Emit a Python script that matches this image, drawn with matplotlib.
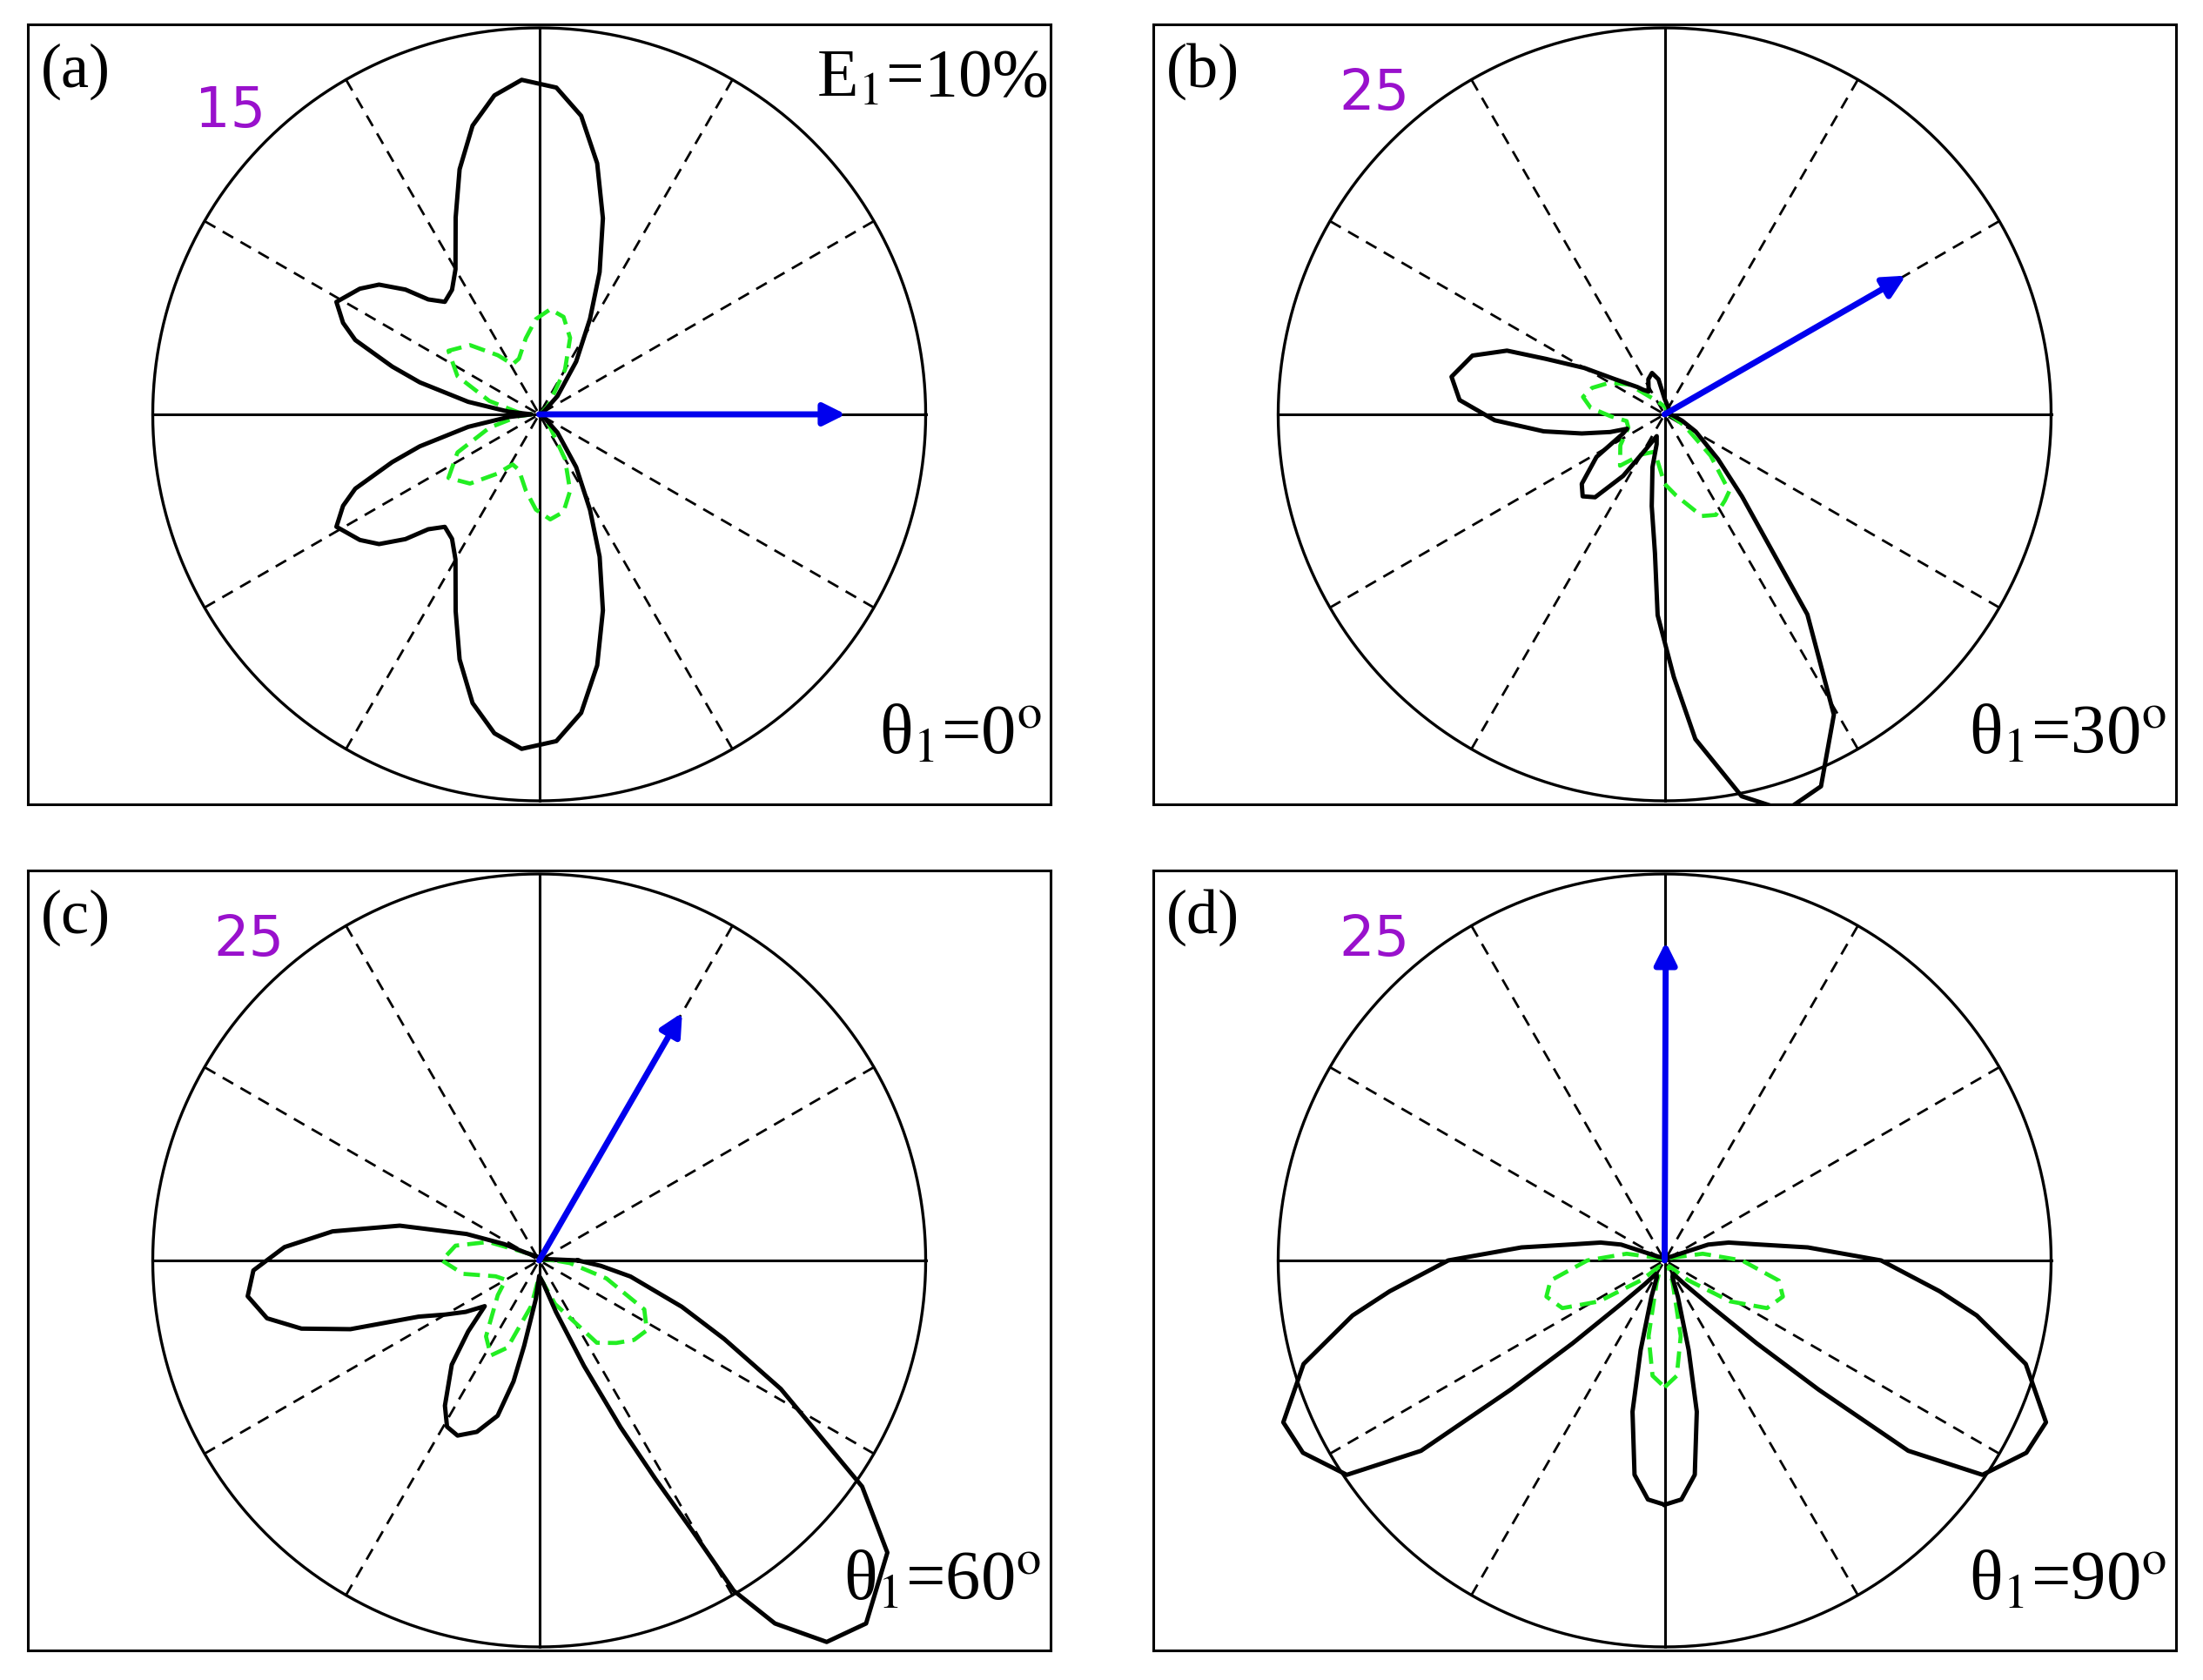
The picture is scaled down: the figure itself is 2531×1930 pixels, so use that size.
import numpy as np
import matplotlib
matplotlib.use("Agg")
import matplotlib.pyplot as plt

plt.rcParams['font.family'] = ['Liberation Serif', 'DejaVu Serif']
plt.rcParams['mathtext.fontset'] = 'stix'

# ---- data (angles in degrees, radii in plot units) ----
# (a) upper half, mirrored for lower half
a_black_ang = [0, 30, 45, 55, 62, 67, 72, 77, 82, 87, 93, 98, 103, 108, 113, 120, 125, 130, 134, 137, 141, 145, 151, 155, 158, 162, 165, 170, 175, 180]
a_black_r = [0, 0.2, 1, 2.5, 4.2, 6, 8, 10, 11.7, 12.7, 13, 12.5, 11.5, 10, 8.3, 6.5, 5.9, 5.7, 6.2, 7.1, 8, 8.5, 9, 8.4, 7.7, 6, 4.8, 2.8, 1.2, 0.3]
a_green_ang = [0, 30, 45, 60, 68, 76, 84, 92, 100, 110, 118, 125, 135, 145, 155, 165, 175, 180]
a_green_r = [0, 0.1, 0.5, 2, 3.2, 3.9, 4.1, 3.7, 3, 2.3, 2.2, 2.8, 3.8, 4.3, 3.5, 2, 0.8, 0.3]

b_black_ang = [0, 30, 60, 90, 100, 107, 115, 125, 131, 135, 145, 150, 155, 158, 163, 170, 176, 182, 188, 193, 198, 201,
               205, 212, 220, 225, 230, 236, 242, 250, 255, 257, 262, 266, 268, 272, 275.4, 281.4, 287, 292.8, 299.4,
               305.5, 313.3, 320, 331, 340, 350, 360]
b_black_r = [0.4, 0.3, 0.5, 1, 2.3, 2.8, 2.5, 1.8, 2.1, 2.5, 4, 6, 8.5, 11, 13, 14, 13.3, 11, 7.9, 5.5, 3.7, 2.6,
             3, 5.2, 7, 7.5, 7, 4.8, 2.5, 1.5, 2, 3.5, 6, 9, 13, 17, 21.1, 25.2, 26.8, 26.1, 22.3,
             15.9, 7.3, 4.5, 2.3, 1.2, 0.6, 0.4]
b_green_ang = [0, 60, 90, 120, 140, 150, 160, 168, 175, 182, 190, 200, 215, 229, 240, 255, 270, 278, 290, 297, 305, 310, 318, 330, 345, 360]
b_green_r = [0.3, 0.3, 0.5, 1, 3, 4.1, 5, 5.4, 4.8, 3.5, 2.5, 2.5, 3.5, 4.4, 3, 2.5, 4.5, 5.3, 7, 7.3, 6.8, 6.5, 4, 1.5, 0.5, 0.3]

c_black_ang = [0, 10, 30, 90, 120, 150, 155, 160, 166, 172, 177, 182, 187, 192, 196, 200, 205, 210, 215, 220,
               225, 230, 237, 241, 245, 250, 255, 258, 260, 265, 270, 280, 288, 293, 296, 298, 299.5, 300.5,
               303, 307, 312, 320, 325, 332, 337, 342, 350, 355, 360]
c_black_r = [2.5, 0.5, 0.2, 0.2, 0.3, 1, 2.5, 5, 9.3, 13.5, 16.5, 18.5, 19, 18, 16, 13, 8.6, 7, 5.8, 4.6,
             6.5, 8.8, 11.2, 12.3, 12.5, 11.8, 10.4, 8, 5.6, 2.5, 1, 1.5, 3.5, 7.4, 12, 16, 20, 24.8,
             28, 30.9, 31.6, 29.4, 25.5, 17.7, 13, 9.7, 6, 4, 2.5]
c_green_ang = [0, 10, 90, 150, 160, 170, 180, 190, 200, 210, 220, 235, 243, 250, 260, 270, 290, 305, 313, 320, 327, 335, 345, 355, 360]
c_green_r = [1, 0.3, 0.2, 1, 3.5, 5.5, 6.3, 5, 3, 2.5, 3.5, 6, 6.9, 6, 3, 1, 3, 6.5, 7.3, 8, 8.3, 7.5, 4.5, 2, 1]

# (d) right half (-90..90), mirrored for left half
d_black_ang = [-90, -86, -82, -78, -75, -70, -65, -58, -50, -45, -42, -40, -38, -34, -28, -23, -16, -10, -6.4, 0, 5.2, 10, 15.6, 20, 30, 60, 90]
d_black_r = [15.8, 15.5, 14, 10, 6, 2.5, 1.2, 1, 2, 4, 8, 13, 20, 24.8, 26.5, 26.8, 24.3, 20.5, 17.9, 14, 9.3, 6, 4.3, 3, 0.5, 0.2, 0.2]
d_green_ang = [-90, -84, -78, -70, -60, -50, -40, -32, -25, -17, -10, 0, 10, 20, 30, 90]
d_green_r = [8.2, 7.5, 5, 1.5, 0.5, 0.5, 2, 5, 7.3, 8, 7.5, 5, 2.5, 0.5, 0.2, 0.2]

scales = [15, 25, 25, 25]
arrow_ang = [0, 29.9, 60, 89.8]
arrow_len = [11.9, 18, 18.5, 20.6]
panel_labels = ['(a)', '(b)', '(c)', '(d)']
theta_labels = ['θ$_{\\mathrm{1}}$=0$^{\\mathrm{o}}$', 'θ$_{\\mathrm{1}}$=30$^{\\mathrm{o}}$',
                'θ$_{\\mathrm{1}}$=60$^{\\mathrm{o}}$', 'θ$_{\\mathrm{1}}$=90$^{\\mathrm{o}}$']
scale_labels = ['15', '25', '25', '25']


def mirror_vertical(ang, r):
    ang = np.array(ang, float); r = np.array(r, float)
    return np.concatenate([ang, -ang[::-1]]), np.concatenate([r, r[::-1]])


def mirror_horizontal(ang, r):
    ang = np.array(ang, float); r = np.array(r, float)
    return np.concatenate([ang, 180 - ang[::-1]]), np.concatenate([r, r[::-1]])


curves = [
    (mirror_vertical(a_black_ang, a_black_r), mirror_vertical(a_green_ang, a_green_r)),
    ((b_black_ang, b_black_r), (b_green_ang, b_green_r)),
    ((c_black_ang, c_black_r), (c_green_ang, c_green_r)),
    (mirror_horizontal(d_black_ang, d_black_r), mirror_horizontal(d_green_ang, d_green_r)),
]

fig = plt.figure(figsize=(25.31, 19.31), dpi=100)
W, H = 1175 / 2531, 896 / 1931
positions = [(32 / 2531, 1 - 925 / 1931), (1325 / 2531, 1 - 925 / 1931),
             (32 / 2531, 1 - 1897 / 1931), (1325 / 2531, 1 - 1897 / 1931)]

t = np.linspace(0, 2 * np.pi, 721)
for i in range(4):
    ax = fig.add_axes([positions[i][0], positions[i][1], W, H])
    ax.set_xlim(-1.323, 1.323)
    ax.set_ylim(-1.009, 1.009)
    ax.set_aspect('equal')
    ax.set_xticks([]); ax.set_yticks([])
    for s in ax.spines.values():
        s.set_linewidth(2.2)
    ax.plot(np.cos(t), np.sin(t), color='black', lw=2.4)
    ax.plot([-1, 1], [0, 0], color='black', lw=2.2)
    ax.plot([0, 0], [-1, 1], color='black', lw=2.2)
    for a in [30, 60, 120, 150]:
        ar = np.radians(a)
        ax.plot([-np.cos(ar), np.cos(ar)], [-np.sin(ar), np.sin(ar)], color='black', lw=2.0,
                ls=(0, (5, 3.5)))
    (ba, br), (ga, gr) = curves[i]
    sc = scales[i]
    ba = np.radians(np.array(ba, float)); br = np.array(br, float) / sc
    ga = np.radians(np.array(ga, float)); gr = np.array(gr, float) / sc
    ax.plot(gr * np.cos(ga), gr * np.sin(ga), color='#22ee22', lw=3.4, ls=(0, (4, 2)),
            solid_joinstyle='round', dash_joinstyle='round')
    ax.plot(br * np.cos(ba), br * np.sin(ba), color='black', lw=3.6, solid_joinstyle='round')
    aa = np.radians(arrow_ang[i]); al = arrow_len[i] / sc
    ax.annotate('', xy=(al * np.cos(aa), al * np.sin(aa)), xytext=(0, 0),
                arrowprops=dict(arrowstyle='-|>', color='#0000ee', lw=5, mutation_scale=38,
                                shrinkA=0, shrinkB=0))
    ax.text(-1.29, 0.89, panel_labels[i], fontsize=52, ha='left', va='center')
    ax.text(-0.75 if i else -0.80, 0.83 if i else 0.785, scale_labels[i], fontsize=46,
            color='#9911cc', family='DejaVu Sans', ha='center', va='center')
    ax.text(1.30, -0.83, theta_labels[i], fontsize=58, ha='right', va='center')
    if i == 0:
        ax.text(1.315, 0.87, 'E$_{\\mathrm{1}}$=10%', fontsize=56, ha='right', va='center')

fig.savefig('out.png', dpi=100)
